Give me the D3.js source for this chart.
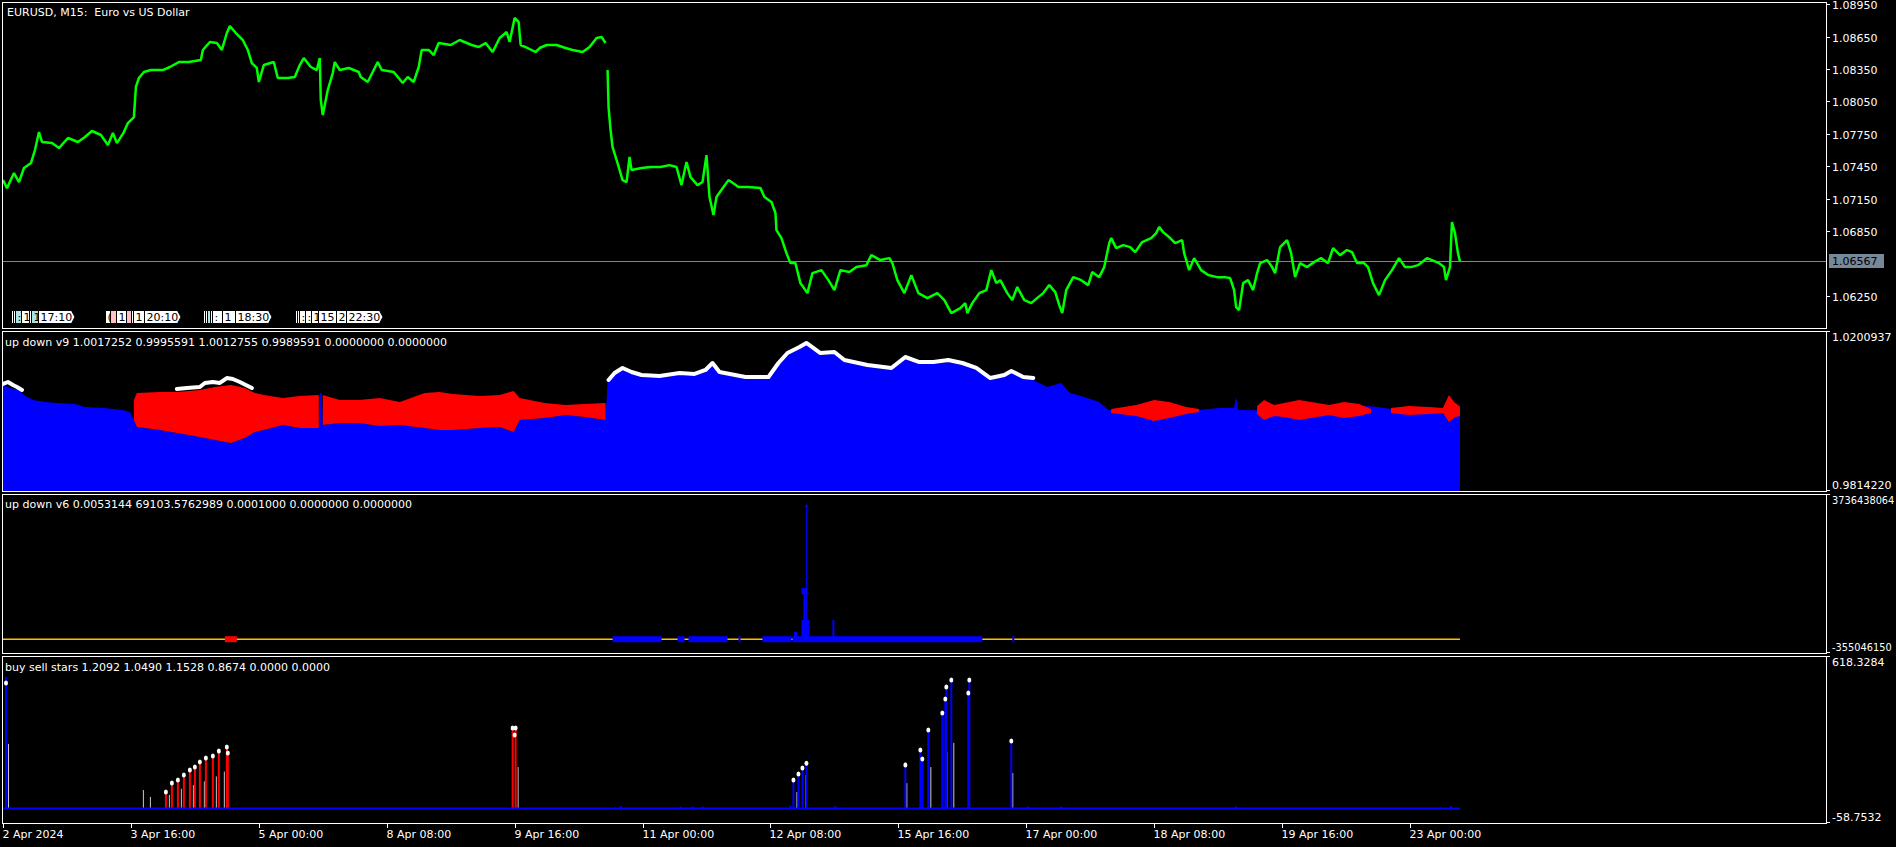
<!DOCTYPE html>
<html><head><meta charset="utf-8">
<script src="https://cdn.jsdelivr.net/npm/d3@7"></script>
<style>html,body{margin:0;padding:0;background:#000;overflow:hidden}svg{display:block}</style>
</head><body><svg id="chart" width="1896" height="847"></svg>
<script>
// ---------------- DATA ----------------
const chartTitle = "EURUSD, M15:  Euro vs US Dollar";
const v9Title = "up down v9 1.0017252 0.9995591 1.0012755 0.9989591 0.0000000 0.0000000";
const v6Title = "up down v6 0.0053144 69103.5762989 0.0001000 0.0000000 0.0000000";
const starsTitle = "buy sell stars 1.2092 1.0490 1.1528 0.8674 0.0000 0.0000";

const timeTickBars = [0,128,256,384,512,640,768,896,1024,1152,1280,1408];
const timeTickLabels = ["2 Apr 2024","3 Apr 16:00","5 Apr 00:00","8 Apr 08:00","9 Apr 16:00","11 Apr 00:00","12 Apr 08:00","15 Apr 16:00","17 Apr 00:00","18 Apr 08:00","19 Apr 16:00","23 Apr 00:00"];

const priceTicks = [1.0895,1.0865,1.0835,1.0805,1.0775,1.0745,1.0715,1.0685,1.0625];
const lastPrice = 1.06567;

// [bar, close]
const price = [
[0,1.07321],[4,1.07247],[11,1.07386],[16,1.07303],[21,1.07433],[28,1.07479],[32,1.07600],[36,1.07766],[39,1.07674],[49,1.07664],[56,1.07618],[65,1.07711],[75,1.07674],[82,1.07720],[89,1.07776],[98,1.07739],[105,1.07646],[110,1.07757],[114,1.07664],[121,1.07766],[125,1.07850],[131,1.07905],[133,1.08184],[136,1.08267],[141,1.08323],[148,1.08341],[160,1.08341],[167,1.08369],[176,1.08415],[186,1.08415],[198,1.08434],[200,1.08527],[207,1.08601],[214,1.08591],[219,1.08527],[224,1.08684],[227,1.08749],[233,1.08684],[240,1.08619],[245,1.08527],[249,1.08406],[254,1.08360],[256,1.08230],[261,1.08387],[271,1.08415],[275,1.08267],[285,1.08267],[292,1.08276],[297,1.08387],[301,1.08452],[308,1.08369],[314,1.08341],[317,1.08452],[318,1.08063],[320,1.07924],[325,1.08156],[330,1.08313],[332,1.08415],[337,1.08341],[346,1.08360],[356,1.08323],[358,1.08276],[365,1.08230],[370,1.08323],[375,1.08415],[379,1.08341],[391,1.08323],[400,1.08221],[405,1.08276],[411,1.08230],[416,1.08369],[419,1.08527],[426,1.08527],[431,1.08480],[436,1.08591],[448,1.08573],[457,1.08619],[469,1.08573],[476,1.08554],[483,1.08591],[490,1.08508],[497,1.08638],[504,1.08693],[507,1.08601],[512,1.08823],[516,1.08786],[518,1.08573],[523,1.08554],[533,1.08508],[537,1.08545],[544,1.08573],[554,1.08573],[563,1.08545],[570,1.08527],[580,1.08508],[587,1.08554],[594,1.08638],[599,1.08647],[603,1.08591],[604,null],
[605,1.08341],[606,1.07998],[608,1.07785],[610,1.07627],[615,1.07479],[620,1.07321],[624,1.07303],[627,1.07535],[629,1.07414],[639,1.07433],[648,1.07442],[658,1.07442],[667,1.07460],[674,1.07442],[679,1.07275],[684,1.07488],[688,1.07349],[695,1.07275],[700,1.07303],[704,1.07553],[707,1.07164],[711,1.06997],[714,1.07164],[721,1.07257],[726,1.07321],[729,1.07303],[736,1.07257],[746,1.07257],[758,1.07247],[762,1.07164],[769,1.07118],[773,1.07016],[774,1.06858],[779,1.06784],[784,1.06645],[788,1.06552],[793,1.06552],[798,1.06367],[805,1.06274],[810,1.06459],[819,1.06487],[826,1.06394],[832,1.06302],[838,1.06487],[847,1.06469],[854,1.06515],[864,1.06533],[869,1.06626],[878,1.06580],[887,1.06598],[890,1.06552],[895,1.06394],[902,1.06274],[909,1.06441],[916,1.06274],[925,1.06228],[935,1.06274],[942,1.06209],[949,1.06089],[958,1.06135],[963,1.06181],[965,1.06089],[970,1.06181],[977,1.06274],[984,1.06302],[989,1.06487],[994,1.06367],[998,1.06394],[1005,1.06274],[1010,1.06209],[1015,1.06330],[1022,1.06209],[1029,1.06181],[1036,1.06237],[1041,1.06274],[1047,1.06348],[1053,1.06283],[1057,1.06163],[1060,1.06089],[1064,1.06302],[1071,1.06422],[1079,1.06394],[1086,1.06348],[1090,1.06469],[1097,1.06422],[1102,1.06515],[1107,1.06737],[1109,1.06784],[1114,1.06691],[1121,1.06719],[1128,1.06700],[1133,1.06654],[1140,1.06747],[1149,1.06784],[1154,1.06830],[1157,1.06886],[1161,1.06839],[1168,1.06784],[1173,1.06737],[1180,1.06765],[1182,1.06645],[1187,1.06487],[1192,1.06598],[1199,1.06487],[1206,1.06441],[1215,1.06422],[1222,1.06422],[1228,1.06413],[1232,1.06302],[1234,1.06144],[1237,1.06116],[1241,1.06367],[1246,1.06394],[1251,1.06302],[1255,1.06459],[1258,1.06552],[1265,1.06580],[1270,1.06515],[1273,1.06459],[1278,1.06700],[1285,1.06765],[1289,1.06645],[1293,1.06422],[1298,1.06552],[1305,1.06515],[1312,1.06561],[1319,1.06598],[1326,1.06552],[1331,1.06691],[1338,1.06626],[1345,1.06673],[1350,1.06654],[1355,1.06552],[1362,1.06552],[1366,1.06515],[1371,1.06367],[1377,1.06255],[1383,1.06394],[1390,1.06487],[1397,1.06598],[1403,1.06515],[1409,1.06515],[1416,1.06533],[1425,1.06598],[1430,1.06580],[1437,1.06552],[1442,1.06515],[1444,1.06394],[1448,1.06515],[1450,1.06932],[1453,1.06830],[1456,1.06645],[1458,1.06567]
];

// stacked chart label objects: [bar, fill, visible text]
const labelGroups = [
  [[8,"#ffffff",""],[10,"#ffffff",""],[12,"#a8e4ea",":"],[18,"#ffffff","1"],[26,"#ffffff",""],[28,"#a8e4ea","1"],[35,"#ffffff","17:10"]],
  [[102,"#ffffff","("],[107,"#ffc0c8",""],[113,"#ffffff","1"],[123,"#ffc0c8",""],[128,"#ffffff",""],[130,"#ffffff","1"],[141,"#ffffff","20:10"]],
  [[200,"#ffffff",""],[202,"#ffffff",""],[204,"#a8e4ea",""],[207,"#ffffff",""],[209,"#ffffff",":"],[219,"#ffffff","1"],[232,"#ffffff","18:30"]],
  [[292,"#ffffff",""],[294,"#ffffff",""],[296,"#ffffff",":"],[302,"#ffffff",":"],[308,"#ffffff","1"],[315,"#ffffff","15"],[333,"#ffffff","2"],[343,"#ffffff","22:30"]]
];

// up down v9 : [bar, value]
const v9Range = [0.9814220, 1.0200937];
const v9Blue = [[0,1.00696],[7,1.00623],[16,1.00574],[21,1.00453],[30,1.00331],[42,1.00282],[54,1.00258],[72,1.00234],[82,1.00161],[101,1.00137],[120,1.00088],[127,1.00039],[131,0.99845],[134,0.99675],[157,0.99601],[174,0.99529],[186,0.99480],[197,0.99431],[212,0.99358],[228,0.99285],[242,0.99407],[252,0.99553],[261,0.99601],[280,0.99723],[297,0.99650],[316,0.99650],[317,1.00501],[319,1.00501],[320,0.99723],[337,0.99772],[356,0.99772],[377,0.99699],[397,0.99723],[422,0.99650],[437,0.99601],[450,0.99601],[477,0.99650],[497,0.99675],[511,0.99553],[517,0.99845],[542,0.99893],[563,0.99966],[582,0.99918],[603,0.99845],[605,1.00769],[612,1.00939],[620,1.01061],[629,1.00964],[639,1.00891],[657,1.00866],[677,1.00939],[692,1.00915],[703,1.01012],[710,1.01182],[717,1.00964],[743,1.00842],[766,1.00842],[776,1.01182],[785,1.01426],[797,1.01572],[804,1.01669],[818,1.01426],[832,1.01450],[842,1.01255],[865,1.01134],[889,1.01061],[903,1.01328],[917,1.01207],[931,1.01207],[946,1.01255],[960,1.01182],[974,1.01061],[988,1.00818],[1002,1.00891],[1009,1.00988],[1021,1.00891],[1031,1.00818],[1045,1.00647],[1059,1.00745],[1068,1.00501],[1082,1.00404],[1097,1.00282],[1106,1.00088],[1127,1.00088],[1157,1.00039],[1197,1.00088],[1217,1.00137],[1232,1.00137],[1234,1.00404],[1236,1.00088],[1297,1.00064],[1367,1.00185],[1397,1.00088],[1437,1.00064],[1458,1.00039]];
// [bar, high, low]
const v9Red = [[131,1.00331,0.99845],[134,1.00501,0.99675],[157,1.00526,0.99601],[174,1.00526,0.99529],[186,1.00550,0.99480],[197,1.00574,0.99431],[212,1.00647,0.99358],[228,1.00696,0.99285],[242,1.00623,0.99407],[252,1.00501,0.99553],[261,1.00453,0.99601],[280,1.00380,0.99723],[297,1.00428,0.99650],[316,1.00453,0.99650],[317,null,null],[319,null,null],[320,1.00453,0.99723],[337,1.00331,0.99772],[356,1.00331,0.99772],[377,1.00380,0.99699],[397,1.00282,0.99723],[422,1.00501,0.99650],[437,1.00526,0.99601],[450,1.00477,0.99601],[477,1.00428,0.99650],[497,1.00453,0.99675],[511,1.00550,0.99553],[517,1.00380,0.99845],[542,1.00258,0.99893],[563,1.00210,0.99966],[582,1.00234,0.99918],[603,1.00258,0.99845],[604,null,null],
[1109,1.00112,1.00015],[1134,1.00210,0.99942],[1152,1.00331,0.99820],[1167,1.00282,0.99893],[1184,1.00161,0.99991],[1197,1.00112,1.00039],[1198,null,null],
[1255,1.00185,0.99991],[1262,1.00331,0.99845],[1272,1.00210,0.99942],[1282,1.00258,0.99918],[1297,1.00331,0.99845],[1315,1.00258,0.99918],[1327,1.00210,0.99966],[1342,1.00282,0.99893],[1357,1.00234,0.99942],[1369,1.00112,1.00015],[1370,null,null],
[1389,1.00137,1.00015],[1407,1.00185,0.99966],[1427,1.00161,0.99991],[1441,1.00137,1.00015],[1447,1.00453,0.99796],[1452,1.00282,0.99893],[1458,1.00173,0.99956]];
const v9White = [[0,1.00720],[5,1.00769],[10,1.00696],[14,1.00647],[19,1.00574],[20,null],
[174,1.00599],[184,1.00623],[197,1.00647],[202,1.00745],[210,1.00769],[217,1.00745],[224,1.00866],[230,1.00842],[237,1.00769],[245,1.00672],[249,1.00623],[250,null],
[606,1.00818],[612,1.00988],[620,1.01110],[629,1.01012],[639,1.00939],[657,1.00915],[677,1.00988],[692,1.00964],[703,1.01061],[710,1.01231],[717,1.01012],[743,1.00891],[766,1.00891],[776,1.01231],[785,1.01474],[797,1.01620],[804,1.01718],[818,1.01474],[832,1.01499],[842,1.01304],[865,1.01182],[889,1.01110],[903,1.01377],[917,1.01255],[931,1.01255],[946,1.01304],[960,1.01231],[974,1.01110],[988,1.00866],[1002,1.00939],[1009,1.01037],[1021,1.00891],[1031,1.00866]];

// up down v6
const v6Range = [-355046150, 3736438064];
const v6LevelBars = [0, 1458];
const v6BandAmp = 77000000;
const v6BlueBands = [[610,658],[675,681],[686,724],[736,737],[760,788],[790,979],[1010,1011]];
const v6RedBands = [[222,233]];
// [bar, value, width]
const v6Spikes = [[804,3427646804,1],[802,1240400000,2],[800,494100000,2],[801,494100000,2],[802,494100000,2],[803,494100000,2],[804,494100000,2],[805,494100000,2],[806,494100000,2],[793,185300000,3],[831,494100000,2]];
const v6Markers = [[802,1240400000]];

// buy sell stars
const starsRange = [-58.7532, 618.3284];
const buyHist = [[3,534],[618,10],[678,8],[690,8],[700,8],[788,12],[791,116],[796,140],[800,164],[804,184],[833,10],[903,176],[918,237],[920,201],[926,318],[940,387],[943,444],[944,493],[949,521],[966,468],[967,521],[1009,274],[1026,8],[1059,8],[1234,8],[1449,10]];
const sellHist = [[163,67],[169,103],[175,116],[181,136],[187,156],[192,168],[197,189],[203,205],[210,213],[216,233],[224,249],[225,225],[510,326],[513,326]];
const grayHist = [[5,262],[140,75],[147,47],[166,55],[178,80],[190,95],[201,110],[213,130],[221,150],[515,168],[794,67],[803,136],[904,103],[928,168],[944,229],[951,266],[966,266],[1010,144]];
const stars = [[3,509],[163,67],[169,103],[175,116],[181,136],[187,156],[192,168],[197,189],[203,205],[210,213],[216,233],[224,249],[225,225],[510,326],[513,326],[512,298],[791,116],[796,140],[800,164],[804,184],[903,176],[918,237],[920,201],[926,318],[940,387],[943,444],[944,493],[949,521],[966,468],[967,521],[1009,274]];

// ---------------- DRAW ----------------
const FONT = "'DejaVu Sans', Tahoma, sans-serif";
const svg = d3.select("#chart");
svg.append("rect").attr("width",1896).attr("height",847).attr("fill","#000");

const LEFT = 2, RIGHT = 1826;
const P = {main:[2,328], v9:[331,491], v6:[494,653], st:[656,823]};

const x = d3.scaleLinear().domain([0,1408]).range([3,1410]);
const yMain = d3.scaleLinear().domain([1.0625,1.0895]).range([295.7,4.3]);
const y9 = d3.scaleLinear().domain(v9Range).range([P.v9[1]-1, P.v9[0]]);
const y6 = d3.scaleLinear().domain(v6Range).range([P.v6[1], P.v6[0]]);
const yS = d3.scaleLinear().domain(starsRange).range([P.st[1], P.st[0]]);

const defs = svg.append("defs");
function clip(id, p){ defs.append("clipPath").attr("id",id).append("rect").attr("x",LEFT+1).attr("y",p[0]+1).attr("width",RIGHT-LEFT-1).attr("height",p[1]-p[0]-1); return svg.append("g").attr("clip-path",`url(#${id})`); }

function text(g, tx, ty, s, color="#fff", size=11){
  return g.append("text").attr("x",tx).attr("y",ty).attr("fill",color).attr("font-family",FONT)
    .attr("font-size",size).style("white-space","pre").text(s);
}

// ---- main panel ----
const gM = clip("cm", P.main);
gM.append("line").attr("x1",LEFT).attr("x2",RIGHT).attr("y1",Math.round(yMain(lastPrice))+0.5).attr("y2",Math.round(yMain(lastPrice))+0.5)
  .attr("stroke","#778899").attr("stroke-width",1);
const priceLine = d3.line().defined(d=>d[1]!=null).x(d=>x(d[0])).y(d=>yMain(d[1]));
gM.append("path").datum(price).attr("d",priceLine).attr("fill","none").attr("stroke","#00ff00").attr("stroke-width",2.5).attr("stroke-linejoin","bevel");

// stacked label objects
const boxW = 33;
labelGroups.forEach(grp=>{
  grp.forEach(([bar,fill,s])=>{
    const lx = Math.round(x(bar))+0.5, top=310.5, bot=323.5, mid=(top+bot)/2;
    const r = lx + boxW;
    const g = gM.append("g");
    g.append("path").attr("d",`M${lx},${top}H${r}L${r+3.5},${mid}L${r},${bot}H${lx}Z`)
      .attr("fill",fill).attr("stroke","#000").attr("stroke-width",1);
    if (s) text(g, lx+2, 320.5, s, "#000");
  });
});
text(gM, 7, 16, chartTitle);

// ---- v9 panel ----
const g9 = clip("c9", P.v9);
g9.append("path").datum(v9Blue).attr("d", d3.area().x(d=>x(d[0])).y0(P.v9[1]).y1(d=>y9(d[1])))
  .attr("fill","#0000ff");
g9.append("path").datum(v9Red).attr("d", d3.area().defined(d=>d[1]!=null).x(d=>x(d[0])).y0(d=>y9(d[2])).y1(d=>y9(d[1])))
  .attr("fill","#ff0000");
g9.append("path").datum(v9White).attr("d", d3.line().defined(d=>d[1]!=null).x(d=>x(d[0])).y(d=>y9(d[1])))
  .attr("fill","none").attr("stroke","#fff").attr("stroke-width",4).attr("stroke-linecap","round").attr("stroke-linejoin","round");
text(g9, 5, 346, v9Title);

// ---- v6 panel ----
const g6 = clip("c6", P.v6);
g6.append("line").attr("x1",x(v6LevelBars[0])).attr("x2",x(v6LevelBars[1])).attr("y1",y6(0)).attr("y2",y6(0))
  .attr("stroke","#ffc000").attr("stroke-width",1.5);
v6BlueBands.forEach(([a,b])=>{
  g6.append("rect").attr("x",x(a)).attr("width",Math.max(2,x(b)-x(a)+1)).attr("y",y6(v6BandAmp)).attr("height",y6(-v6BandAmp)-y6(v6BandAmp)).attr("fill","#0000ff");
});
v6RedBands.forEach(([a,b])=>{
  g6.append("rect").attr("x",x(a)).attr("width",x(b)-x(a)+1).attr("y",y6(v6BandAmp)).attr("height",y6(-v6BandAmp)-y6(v6BandAmp)).attr("fill","#ff0000");
});
v6Spikes.forEach(([b,v,w])=>{
  g6.append("line").attr("x1",x(b)).attr("x2",x(b)).attr("y1",y6(0)).attr("y2",y6(v)).attr("stroke","#0000ff").attr("stroke-width",w);
});
v6Markers.forEach(([b,v])=>{
  g6.append("rect").attr("x",x(b)-3).attr("y",y6(v)-3).attr("width",6).attr("height",6).attr("fill","#0000ff");
});
g6.append("circle").attr("cx",x(v6Spikes[0][0])).attr("cy",y6(v6Spikes[0][1])).attr("r",1.5).attr("fill","#0000ff");
text(g6, 5, 508, v6Title);

// ---- stars panel ----
const gS = clip("cs", P.st);
grayHist.forEach(([b,v])=>{
  gS.append("line").attr("x1",x(b)+0.5).attr("x2",x(b)+0.5).attr("y1",yS(0)).attr("y2",yS(v)).attr("stroke","#c8c8c8").attr("stroke-width",1);
});
sellHist.forEach(([b,v])=>{
  gS.append("line").attr("x1",x(b)).attr("x2",x(b)).attr("y1",yS(0)).attr("y2",yS(v)).attr("stroke","#ff0000").attr("stroke-width",2);
});
buyHist.forEach(([b,v])=>{
  gS.append("line").attr("x1",x(b)).attr("x2",x(b)).attr("y1",yS(0)).attr("y2",yS(v)).attr("stroke","#0000ff").attr("stroke-width",2);
});
gS.append("line").attr("x1",x(0)).attr("x2",x(1458)).attr("y1",yS(0)).attr("y2",yS(0)).attr("stroke","#0000ff").attr("stroke-width",2);
stars.forEach(([b,v])=>{
  gS.append("ellipse").attr("cx",x(b)).attr("cy",yS(v)).attr("rx",2).attr("ry",2.5).attr("fill","#fff");
});
text(gS, 5, 671, starsTitle);

// ---- borders ----
const gb = svg.append("g").attr("shape-rendering","crispEdges");
Object.values(P).forEach(p=>{
  gb.append("rect").attr("x",LEFT+0.5).attr("y",p[0]+0.5).attr("width",RIGHT-LEFT).attr("height",p[1]-p[0])
    .attr("fill","none").attr("stroke","#fff").attr("stroke-width",1);
});

// ---- right axes ----
priceTicks.forEach(v=>{
  const yy = Math.round(yMain(v))+0.5;
  gb.append("line").attr("x1",RIGHT).attr("x2",RIGHT+4).attr("y1",yy).attr("y2",yy).attr("stroke","#fff");
  text(svg, 1832, yy+4, v.toFixed(5));
});
const ly = Math.round(yMain(lastPrice));
svg.append("rect").attr("x",1829).attr("y",ly-7).attr("width",55).attr("height",14).attr("fill","#778899");
text(svg, 1832, ly+4, lastPrice.toFixed(5), "#000");

function subAxis(p, topLabel, botLabel, size){
  gb.append("line").attr("x1",RIGHT).attr("x2",RIGHT+4).attr("y1",p[0]+0.5).attr("y2",p[0]+0.5).attr("stroke","#fff");
  gb.append("line").attr("x1",RIGHT).attr("x2",RIGHT+4).attr("y1",p[1]-0.5).attr("y2",p[1]-0.5).attr("stroke","#fff");
  text(svg, 1832, p[0]+10, topLabel, "#fff", size);
  text(svg, 1832, p[1]-2, botLabel, "#fff", size);
}
subAxis(P.v9, v9Range[1].toFixed(7), v9Range[0].toFixed(7), 11);
subAxis(P.v6, String(v6Range[1]), String(v6Range[0]), 9.8);
subAxis(P.st, starsRange[1].toFixed(4), starsRange[0].toFixed(4), 11);

// ---- time axis ----
timeTickBars.forEach((b,i)=>{
  const xx = Math.round(x(b))+0.5;
  gb.append("line").attr("x1",xx).attr("x2",xx).attr("y1",P.st[1]).attr("y2",P.st[1]+5).attr("stroke","#fff");
  text(svg, xx-1, 838, timeTickLabels[i]);
});
</script></body></html>
